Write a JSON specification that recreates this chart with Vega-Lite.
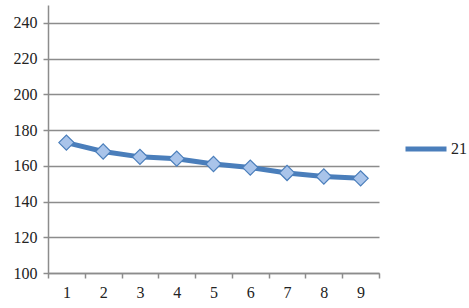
{
  "$schema": "https://vega.github.io/schema/vega-lite/v6.json",
  "width": 331,
  "height": 268,
  "autosize": "none",
  "padding": {"left": 48, "top": 5, "right": 90, "bottom": 35},
  "background": "white",
  "config": {
    "view": {"stroke": null},
    "axis": {
      "labelFontSize": 16,
      "labelColor": "#222222",
      "domainColor": "#8c8c8c",
      "tickColor": "#8c8c8c",
      "gridColor": "#8c8c8c",
      "gridWidth": 1.5,
      "domainWidth": 1.5,
      "tickWidth": 1.5,
      "title": null
    }
  },
  "data": {
    "values": [
      {"x": "1", "y": 173, "s": "21"},
      {"x": "2", "y": 168, "s": "21"},
      {"x": "3", "y": 165, "s": "21"},
      {"x": "4", "y": 164, "s": "21"},
      {"x": "5", "y": 161, "s": "21"},
      {"x": "6", "y": 159, "s": "21"},
      {"x": "7", "y": 156, "s": "21"},
      {"x": "8", "y": 154, "s": "21"},
      {"x": "9", "y": 153, "s": "21"}
    ]
  },
  "encoding": {
    "x": {
      "field": "x", "type": "ordinal",
      "scale": {"type": "band", "paddingInner": 0, "paddingOuter": 0},
      "axis": {"labelAngle": 0, "tickBand": "extent", "grid": false, "tickSize": 5, "labelPadding": 6, "labelFont": "Liberation Serif"}
    },
    "y": {
      "field": "y", "type": "quantitative",
      "scale": {"domain": [100, 250], "nice": false},
      "axis": {"values": [100, 120, 140, 160, 180, 200, 220, 240], "tickSize": 5, "labelPadding": 6, "labelFont": "Liberation Serif"}
    }
  },
  "layer": [
    {
      "mark": {"type": "line", "strokeWidth": 5, "strokeCap": "round"},
      "encoding": {
        "color": {
          "field": "s", "type": "nominal",
          "scale": {"range": ["#4a7ebb"]},
          "legend": {
            "title": null, "orient": "none", "legendX": 355, "legendY": 121,
            "symbolType": "stroke", "symbolStrokeWidth": 5, "symbolSize": 1681,
            "labelFont": "Liberation Serif", "labelFontSize": 16, "labelColor": "#222222", "labelOffset": 2
          }
        }
      }
    },
    {
      "mark": {"type": "point", "shape": "diamond", "filled": true, "size": 230, "fill": "#a9c4ea", "stroke": "#4a7ebb", "strokeWidth": 1.2, "opacity": 1}
    }
  ]
}
